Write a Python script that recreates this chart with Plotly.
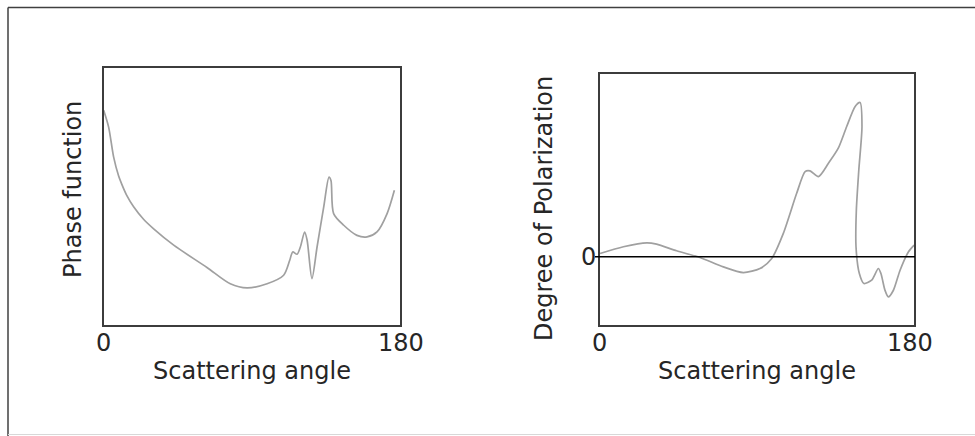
import plotly.graph_objects as go

W, H = 975, 436

# Phase function vs scattering angle (arbitrary units)
phase_angle = [0.4, 3.4, 6.4, 9.4, 11.5, 14.5, 18.5, 24.5, 30.6, 42.7, 62.8, 76.9, 87.0,
               99.1, 109.1, 112.8, 114.6, 117.2, 119.2, 121.8, 123.3, 126.2, 129.3, 133.3,
               136.5, 137.7, 139.3, 145.4, 153.4, 159.5, 165.5, 171.6, 176.0]
phase_value = [83.3, 76.8, 65.3, 58.0, 54.5, 50.2, 46.0, 41.2, 37.5, 31.2, 22.6, 16.3, 14.7,
               16.3, 19.6, 25.4, 28.6, 27.7, 30.5, 36.3, 33.1, 18.3, 30.5, 45.9,
               57.5, 56.2, 43.4, 38.9, 35.0, 34.4, 36.3, 43.4, 52.4]

# Degree of polarization vs scattering angle (arbitrary units, 0 = unpolarized)
pol_angle = [0.6, 13.9, 27.2, 32.8, 44.2, 57.5, 70.8, 82.2, 91.7, 98.4, 105.0, 112.6,
             117.4, 120.2, 125.0, 130.7, 136.3, 141.1, 145.9, 148.7, 149.8, 148.0,
             146.6, 146.4, 148.3, 150.9, 155.3, 159.1, 160.6, 162.9, 164.8, 167.7,
             171.5, 176.3, 179.5]
pol_value = [0.10, 0.30, 0.42, 0.38, 0.18, -0.02, -0.30, -0.47, -0.35, -0.05, 0.70, 1.90,
             2.55, 2.57, 2.40, 2.80, 3.25, 3.90, 4.50, 4.62, 3.90, 2.60,
             1.40, 0.30, -0.50, -0.80, -0.70, -0.35, -0.50, -1.00, -1.20, -1.00,
             -0.40, 0.15, 0.35]

x_ticks = [0, 180]
x_tick_text = ["0", "180"]
x_title = "Scattering angle"
y_titles = ["Phase function", "Degree of Polarization"]

FONT = "DejaVu Sans, Verdana, sans-serif"
FS = 24
TXT = "#262626"
FRAME = "#3c3c3c"
CURVE = "#a0a0a0"


def px(x):
    return x / W


def py(y):
    return 1 - y / H


# plot frames in pixels: (left, top, right, bottom)
frames = [(103, 67, 401, 326), (599, 73, 915, 326)]

fig = go.Figure()
fig.add_trace(go.Scatter(x=phase_angle, y=phase_value, mode="lines",
                         line=dict(color=CURVE, width=1.7, shape="spline", smoothing=0.8),
                         xaxis="x", yaxis="y", showlegend=False, hoverinfo="skip"))
fig.add_trace(go.Scatter(x=pol_angle, y=pol_value, mode="lines",
                         line=dict(color=CURVE, width=1.7, shape="spline", smoothing=0.7),
                         xaxis="x2", yaxis="y2", showlegend=False, hoverinfo="skip"))

ax_common = dict(showgrid=False, zeroline=False, showticklabels=False, ticks="",
                 showline=False, fixedrange=True)
fig.update_layout(
    width=W, height=H,
    margin=dict(l=0, r=0, t=0, b=0),
    paper_bgcolor="white", plot_bgcolor="white",
    xaxis=dict(domain=[px(frames[0][0]), px(frames[0][2])], range=[0, 180], anchor="y", **ax_common),
    yaxis=dict(domain=[py(frames[0][3]), py(frames[0][1])], range=[0, 100], anchor="x", **ax_common),
    xaxis2=dict(domain=[px(frames[1][0]), px(frames[1][2])], range=[0, 180], anchor="y2", **ax_common),
    yaxis2=dict(domain=[py(frames[1][3]), py(frames[1][1])], range=[-2.07, 5.5], anchor="x2", **ax_common),
)

shapes = []
# outer border
shapes.append(dict(type="line", xref="paper", yref="paper", x0=px(8), x1=1, y0=py(7.5), y1=py(7.5),
                   line=dict(color="#404040", width=1.5)))
shapes.append(dict(type="line", xref="paper", yref="paper", x0=px(8), x1=px(8), y0=py(7.5), y1=0,
                   line=dict(color="#404040", width=1.5)))
shapes.append(dict(type="line", xref="paper", yref="paper", x0=px(8), x1=1, y0=py(434.5), y1=py(434.5),
                   line=dict(color="#d8d8d8", width=1)))
# plot frames
for (l, t, r, b) in frames:
    shapes.append(dict(type="rect", xref="paper", yref="paper", x0=px(l), x1=px(r), y0=py(b), y1=py(t),
                       line=dict(color=FRAME, width=2), fillcolor="rgba(0,0,0,0)", layer="above"))
# zero reference line of the polarization panel
shapes.append(dict(type="line", xref="paper", yref="y2", x0=px(595), x1=px(frames[1][2]), y0=0, y1=0,
                   line=dict(color="black", width=1.5), layer="above"))
fig.update_layout(shapes=shapes)

ann = []
for i, (l, t, r, b) in enumerate(frames):
    xa = "x" if i == 0 else "x2"
    for v, s in zip(x_ticks, x_tick_text):
        shift = -5 if (i == 1 and v == 180) else 0
        ann.append(dict(x=v, xref=xa, y=py(343), yref="paper", text=s, showarrow=False, xshift=shift,
                        xanchor="center", yanchor="middle", font=dict(family=FONT, size=FS, color=TXT)))
    ann.append(dict(x=px((l + r) / 2), xref="paper", y=py(371), yref="paper", text=x_title,
                    showarrow=False, xanchor="center", yanchor="middle",
                    font=dict(family=FONT, size=FS, color=TXT)))
ann.append(dict(x=px(73), xref="paper", y=py(190), yref="paper", text=y_titles[0], textangle=-90,
                showarrow=False, xanchor="center", yanchor="middle",
                font=dict(family=FONT, size=FS, color=TXT)))
ann.append(dict(x=px(544), xref="paper", y=py(209), yref="paper", text=y_titles[1], textangle=-90,
                showarrow=False, xanchor="center", yanchor="middle",
                font=dict(family=FONT, size=FS, color=TXT)))
ann.append(dict(x=px(588), xref="paper", y=0, yref="y2", text="0", showarrow=False,
                xanchor="center", yanchor="middle", font=dict(family=FONT, size=FS, color=TXT)))
fig.update_layout(annotations=ann)

fig.write_html("out.html", config={"displayModeBar": False})
